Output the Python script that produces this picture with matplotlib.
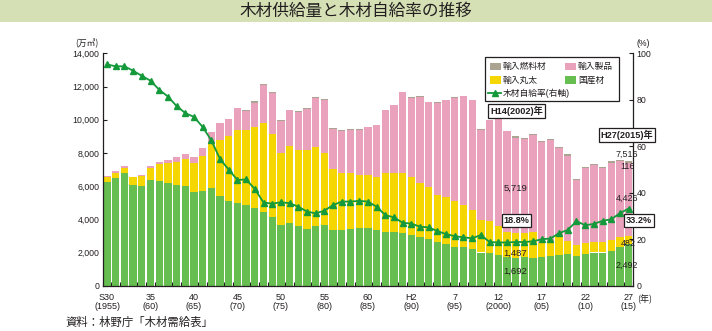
import matplotlib
matplotlib.use("Agg")
import matplotlib.pyplot as plt
from matplotlib.patches import Rectangle
from matplotlib.lines import Line2D
import numpy as np

plt.rcParams["font.family"] = ["Liberation Sans", "Noto Sans CJK JP", "DejaVu Sans"]

# ---- data (万m3, %) : 1955 (S30) .. 2015 (H27) ----
years = list(range(1955, 2016))

domestic = [6240, 6460, 6790, 6060, 5980, 6360, 6300, 6180, 6060, 6000,
            5640, 5700, 5880, 5390, 5090, 4970, 4890, 4710, 4460, 4160,
            3680, 3780, 3620, 3430, 3620, 3680, 3370, 3370, 3430, 3500,
            3470, 3350, 3230, 3230, 3170, 3050, 2930, 2810, 2630, 2530,
            2360, 2320, 2220, 2000, 1960, 1860, 1720, 1692, 1700, 1640,
            1700, 1800, 1860, 1920, 1800, 1920, 2000, 2000, 2100, 2340,
            2492]

logs = [300, 320, 280, 485, 605, 710, 1010, 1210, 1390, 1660,
        1780, 2120, 2650, 3390, 3940, 4420, 4500, 4870, 5370, 4970,
        4340, 4610, 4550, 4730, 4750, 4300, 3640, 3410, 3350, 3190,
        3210, 3210, 3580, 3580, 3640, 3480, 3270, 3150, 2850, 2810,
        2730, 2570, 2320, 1980, 1920, 1760, 1500, 1487, 1470, 1570,
        870, 810, 1110, 790, 630, 650, 610, 610, 670, 570,
        482]

products = [40, 100, 140, 20, 60, 140, 140, 160, 300, 280,
            340, 485, 710, 1010, 1010, 1310, 1130, 1400, 2250, 2450,
            1900, 2170, 2300, 2490, 2950, 3220, 2430, 2530, 2590, 2690,
            2870, 3120, 3750, 4050, 4830, 4790, 5170, 5090, 5540, 5820,
            6220, 6520, 6630, 5420, 6090, 6480, 6080, 5719, 5660, 5880,
            6100, 6140, 5350, 5130, 3920, 4530, 4650, 4490, 4650, 4590,
            4426]

fuel = [0, 0, 0, 0, 0, 0, 0, 0, 0, 0,
        0, 0, 0, 0, 0, 0, 40, 120, 60, 100,
        40, 30, 40, 40, 40, 60, 40, 40, 40, 40,
        40, 30, 30, 30, 40, 60, 60, 40, 40, 40,
        40, 40, 40, 30, 30, 40, 40, 100, 60, 40,
        60, 80, 60, 80, 100, 80, 80, 80, 100, 80,
        116]

rate = [95.2, 94.4, 94.4, 92.5, 90.3, 88.2, 84.3, 81.4, 77.3, 74.3,
        72.6, 68.3, 62.5, 54.5, 49.9, 45.5, 45.7, 41.6, 35.8, 35.3,
        35.9, 35.5, 34.0, 31.9, 31.1, 32.3, 34.7, 36.2, 36.2, 36.5,
        36.2, 34.0, 30.4, 29.4, 27.1, 26.7, 25.4, 25.1, 23.5, 22.2,
        21.3, 20.8, 20.4, 21.8, 18.8, 18.6, 18.6, 18.8, 18.8, 19.1,
        20.0, 20.3, 22.6, 24.0, 27.8, 26.0, 26.6, 27.9, 28.6, 31.2,
        33.2]

tick_years = [1955, 1960, 1965, 1970, 1975, 1980, 1985, 1990, 1995, 2000, 2005, 2010, 2015]
tick_labels = ["S30\n(1955)", "35\n(60)", "40\n(65)", "45\n(70)", "50\n(75)", "55\n(80)",
               "60\n(85)", "H2\n(90)", "7\n(95)", "12\n(2000)", "17\n(05)", "22\n(10)", "27\n(15)"]

# ---- styling ----
C_DOM = "#66bd50"
C_LOG = "#f6d600"
C_PRD = "#eaa2bc"
C_FUEL = "#aca493"
C_LINE = "#14993b"
C_TXT = "#231f20"

W, H = 712, 331
fig = plt.figure(figsize=(W / 100, H / 100), dpi=100)


def fx(px):
    return px / W


def fy(py):
    return 1 - py / H


# header band with title
fig.patches.append(Rectangle((0, fy(22)), 1, 22 / H, transform=fig.transFigure,
                             facecolor="#d5e0b5", edgecolor="none", zorder=0))
fig.text(0.5, fy(11.5), "木材供給量と木材自給率の推移", ha="center", va="center",
         fontsize=12, color=C_TXT, family=["Noto Sans CJK JP"])

ax = fig.add_axes([fx(102.7), fy(285.7), fx(633) - fx(102.7), (285.7 - 53.3) / H])

x = np.arange(len(years))
bottom = np.zeros(len(x))
for vals, col in [(domestic, C_DOM), (logs, C_LOG), (products, C_PRD), (fuel, C_FUEL)]:
    v = np.array(vals, dtype=float)
    ax.bar(x, v, 0.84, bottom=bottom, color=col, linewidth=0, zorder=2)
    bottom += v

ax.set_xlim(-0.5, 60.5)
ax.set_ylim(0, 14000)
ax.set_yticks(range(0, 14001, 2000))
ax.set_yticklabels([f"{v:,}" for v in range(0, 14001, 2000)])
ax.tick_params(axis="y", direction="in", length=3, width=0.8, color=C_TXT,
               labelsize=6.3, pad=2.5, labelcolor=C_TXT)

ax.set_xticks([years.index(y) for y in tick_years])
ax.set_xticklabels(tick_labels, fontsize=6.5, linespacing=1.0, color=C_TXT)
ax.tick_params(axis="x", which="major", length=0, pad=5)
ax.set_xticks(np.arange(-0.5, 61, 1), minor=True)
ax.tick_params(axis="x", which="minor", direction="in", length=3, width=0.8, color=C_TXT)

for s in ["top", "right"]:
    ax.spines[s].set_visible(False)
for s in ["left", "bottom"]:
    ax.spines[s].set_color(C_TXT)
    ax.spines[s].set_linewidth(0.9)

ax2 = ax.twinx()
ax2.set_ylim(0, 100)
ax2.set_yticks(range(0, 101, 20))
ax2.tick_params(axis="y", direction="in", length=3, width=0.8, color=C_TXT,
                labelsize=6.3, pad=2.5, labelcolor=C_TXT)
ax2.plot(x, rate, color=C_LINE, lw=1.3, marker="^", ms=5, mec=C_LINE, mfc=C_LINE, zorder=2)
for s in ["top", "left", "bottom"]:
    ax2.spines[s].set_visible(False)
ax2.spines["right"].set_color(C_TXT)
ax2.spines["right"].set_linewidth(0.9)

# value labels on 2002 and 2015 bars
i02 = years.index(2002)
i15 = years.index(2015)
lab_kw = dict(ha="center", va="center", fontsize=6.8, color=C_TXT, zorder=5)
ax.text(i02, 5870, f"{products[i02]:,}", **lab_kw)
ax.text(i02, 1970, f"{logs[i02]:,}", **lab_kw)
ax.text(i02, 855, f"{domestic[i02]:,}", **lab_kw)
total15 = domestic[i15] + logs[i15] + products[i15] + fuel[i15]
lab15 = dict(lab_kw, fontsize=6.4, clip_on=False)
ax.text(i15 - 0.2, 7934, f"{total15:,}", **lab15)
ax.text(i15 - 0.1, 7169, f"{fuel[i15]:,}", **lab15)
ax.text(i15 - 0.2, 5265, f"{products[i15]:,}", **lab15)
ax.text(i15 - 0.1, 2554, f"{logs[i15]:,}", **lab15)
ax.text(i15 - 0.2, 1247, f"{domestic[i15]:,}", **lab15)

box = dict(boxstyle="square,pad=0.2", facecolor="white", edgecolor=C_TXT, linewidth=0.9)
bkw = dict(ha="center", va="center", fontsize=6.6, color=C_TXT, fontweight="bold",
           bbox=box, clip_on=False, zorder=6, transform=ax.transData)
ax2.text(i02 + 0.1, 10540, "H14(2002)年", **bkw)
ax2.text(i02 + 0.1, 3930, f"{rate[i02]}%", **bkw)
ax2.text(i15 - 0.2, 9096, "H27(2015)年", **bkw)
ax2.text(i15 + 1.2, 3930, f"{rate[i15]}%", **bkw)

# legend box drawn in figure pixels
LZ = 10
fig.add_artist(Rectangle((fx(485), fy(101)), fx(619) - fx(485), 44 / H,
                         transform=fig.transFigure, facecolor="white",
                         edgecolor=C_TXT, linewidth=0.9, zorder=LZ))
legend_patches = [(490, 66.7, C_FUEL, "輸入燃料材"),
                  (490, 80.0, C_LOG, "輸入丸太"),
                  (565, 66.7, C_PRD, "輸入製品"),
                  (565, 80.0, C_DOM, "国産材")]
for px, py, col, txt in legend_patches:
    fig.add_artist(Rectangle((fx(px), fy(py + 3.6)), 11 / W, 7.2 / H,
                             transform=fig.transFigure, facecolor=col,
                             edgecolor="none", zorder=LZ + 1))
    fig.text(fx(px + 13), fy(py), txt, ha="left", va="center", fontsize=6.3,
             color=C_TXT, zorder=LZ + 1)
fig.add_artist(Line2D([fx(488), fx(501)], [fy(93.3), fy(93.3)], transform=fig.transFigure,
                      color=C_LINE, lw=1.3, zorder=LZ + 1))
fig.add_artist(Line2D([fx(494.5)], [fy(93.3)], transform=fig.transFigure, color=C_LINE,
                      marker="^", ms=4.5, lw=0, zorder=LZ + 2))
fig.text(fx(503), fy(93.3), "木材自給率(右軸)", ha="left", va="center", fontsize=6.3,
         color=C_TXT, zorder=LZ + 1)

# axis unit labels and source
fig.text(fx(87), fy(43.5), "(万㎥)", ha="center", va="center", fontsize=6.3,
         color=C_TXT, family=["Noto Sans CJK JP"])
fig.text(fx(643), fy(43.5), "(%)", ha="center", va="center", fontsize=6.3, color=C_TXT)
fig.text(fx(645), fy(299.5), "(年)", ha="center", va="center", fontsize=6.5,
         color=C_TXT, family=["Noto Sans CJK JP"])
fig.text(fx(65), fy(322.5), "資料：林野庁「木材需給表」", ha="left", va="center",
         fontsize=8.2, color=C_TXT, family=["Noto Sans CJK JP"])

fig.savefig("out.png", dpi=100)
